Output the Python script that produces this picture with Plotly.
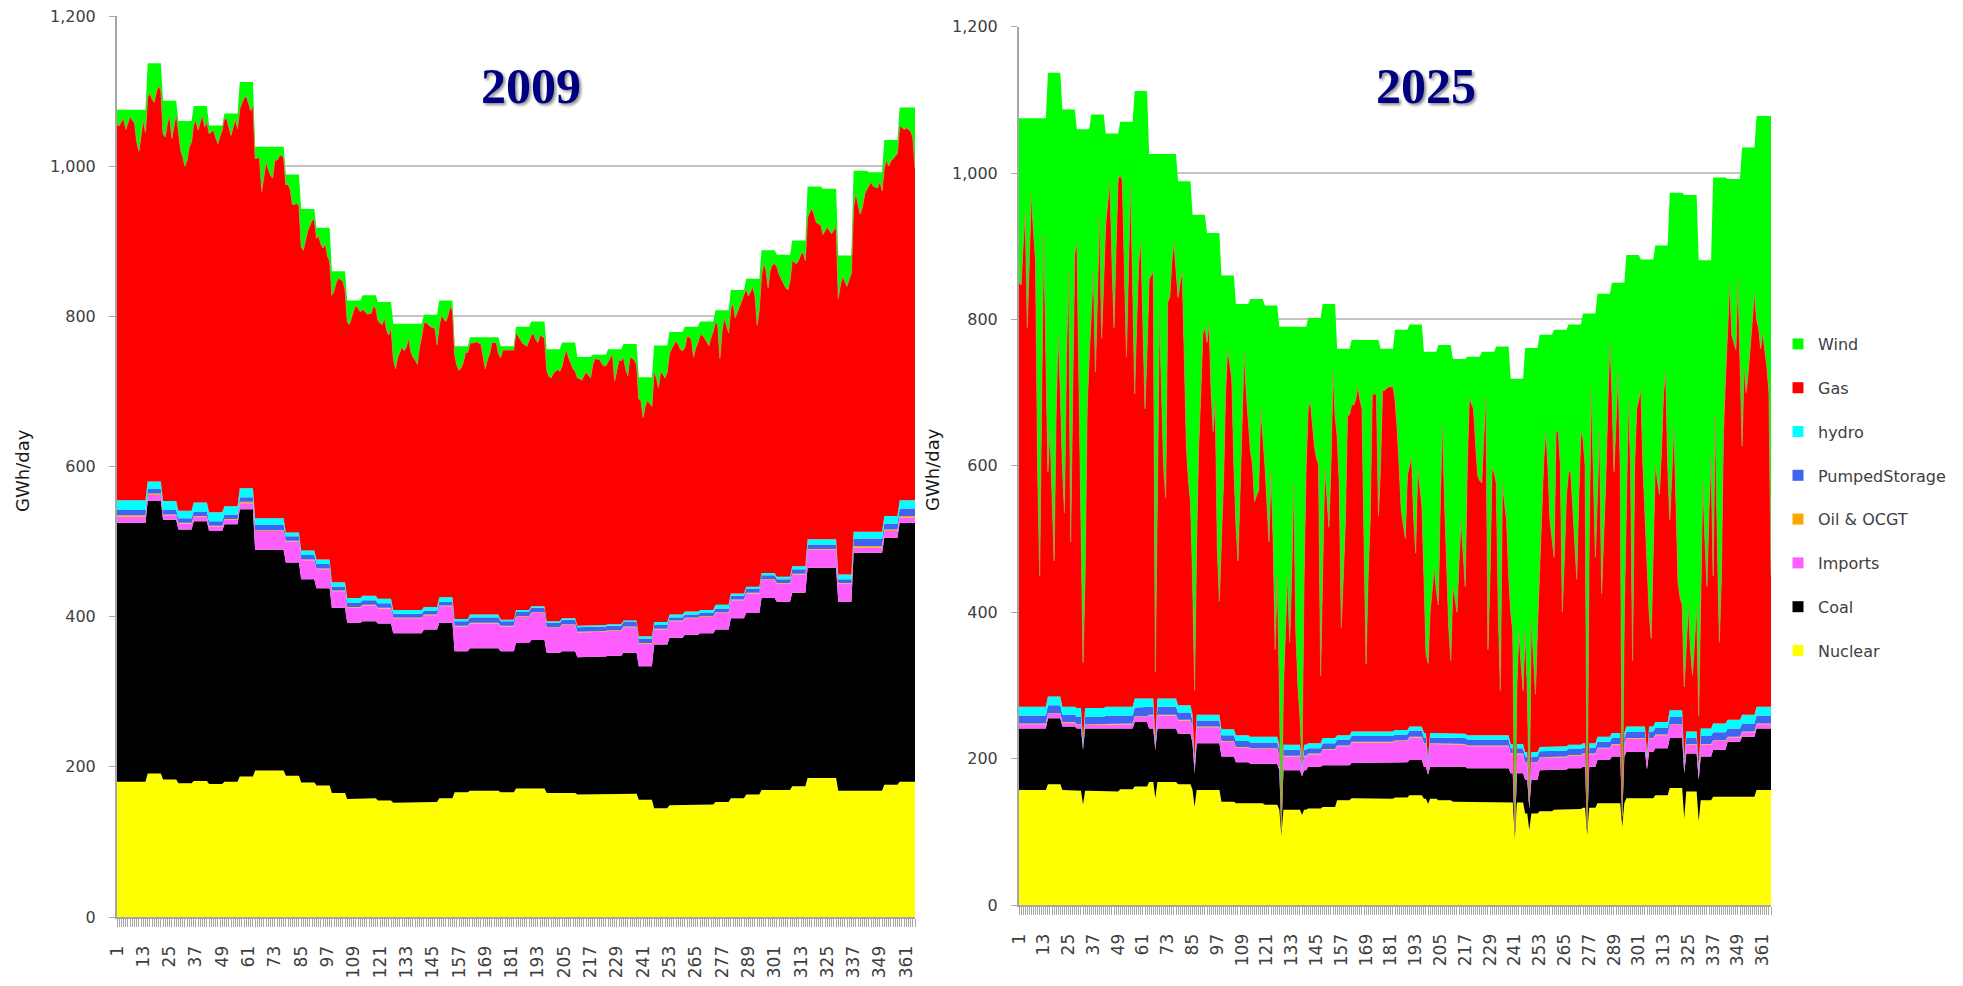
import plotly.graph_objects as go

# ---------------- categories / labels ----------------
DAYS = list(range(1, 366))
tick_days = list(range(1, 366, 12))
tick_labels = [str(d) for d in tick_days]
y_ticks = [0, 200, 400, 600, 800, 1000, 1200]
y_tick_labels = ["0", "200", "400", "600", "800", "1,000", "1,200"]

SERIES = ["Nuclear", "Coal", "Imports", "Oil & OCGT", "PumpedStorage", "hydro", "Gas", "Wind"]
COLORS = {"Nuclear": "#FFFF00", "Coal": "#000000", "Imports": "#FF5EFF",
          "Oil & OCGT": "#FFA500", "PumpedStorage": "#3F64F2", "hydro": "#00FFFF",
          "Gas": "#FF0000", "Wind": "#00FF00"}

# ---------------- weekly demand (GWh/day, same in both years) ----------------
weekly_demand = [1075, 1075, 1137, 1087, 1060, 1080, 1054, 1070, 1112, 1026, 1026, 989, 943,
                 918, 860, 821, 828, 819, 790, 790, 802, 821, 760, 772, 772, 760, 786, 793,
                 756, 765, 746, 749, 756, 763, 719, 761, 779, 786, 793, 808, 835, 850, 888,
                 882, 901, 973, 970, 881, 994, 992, 1035, 1078, 1078]

# ---------------- 2009 weekly series ----------------
nuclear_2009 = [180, 180, 191, 183, 178, 181, 177, 180, 187, 195, 195, 188, 179, 175, 165, 157,
                158, 155, 152, 152, 153, 158, 166, 168, 168, 166, 171, 171, 165, 165, 163, 163,
                163, 164, 156, 145, 149, 149, 150, 153, 158, 163, 169, 169, 174, 185, 185, 168,
                168, 168, 176, 180, 180]
coal_2009 = [345, 345, 363, 346, 338, 346, 337, 343, 356, 294, 294, 284, 271, 263, 247, 235,
             236, 236, 226, 226, 230, 234, 188, 190, 190, 188, 194, 198, 187, 189, 183, 184,
             185, 188, 178, 218, 223, 227, 228, 230, 240, 242, 256, 251, 258, 280, 280, 252,
             317, 317, 329, 345, 345]
imports_2009 = [8, 8, 8, 6, 8, 6, 6, 6, 8, 25, 25, 28, 25, 25, 22, 20, 21, 20, 20, 20, 19, 22,
                33, 33, 33, 33, 35, 36, 33, 35, 33, 33, 33, 34, 30, 20, 22, 22, 22, 22, 24, 26,
                24, 24, 24, 24, 24, 24, 7, 7, 9, 7, 7]
oil_2009 = [2, 2, 2, 1, 1, 1, 1, 1, 2, 1, 1, 1, 1, 1, 1, 1, 1, 1, 1, 1, 1, 1, 1, 1, 1, 1, 1,
            1, 1, 1, 1, 1, 1, 1, 1, 1, 1, 1, 1, 1, 1, 1, 1, 1, 1, 1, 1, 1, 2, 2, 2, 2, 2]
storage_2009 = [7, 7, 6, 6, 6, 6, 6, 6, 6, 7, 7, 6, 6, 6, 5, 6, 6, 6, 5, 5, 5, 5, 6, 7, 7, 6,
                6, 6, 6, 6, 6, 6, 6, 6, 6, 5, 4, 4, 4, 5, 5, 5, 5, 5, 6, 6, 6, 5, 10, 10, 8, 10, 10]
hydro_2009 = [13, 13, 10, 12, 10, 12, 12, 11, 12, 9, 9, 5, 6, 6, 6, 6, 6, 6, 5, 5, 5, 6, 3, 4,
              4, 2, 2, 2, 2, 2, 2, 2, 2, 2, 3, 4, 4, 4, 4, 5, 3, 3, 3, 3, 4, 7, 7, 6, 9, 9, 10,
              11, 11]

# daily wind 2009
wind_2009 = [
    20, 21, 16, 12, 26, 18, 9,   14, 18, 43, 55, 34, 14, 30,   45, 40, 48, 52, 38, 30, 36,
    44, 48, 30, 20, 50, 35, 18,  14, 38, 48, 60, 52, 34, 28,   24, 20, 32, 21, 13, 28, 21,
    11, 9, 6, 16, 24, 14, 6,     7, 7, 18, 29, 18, 8, 20,      36, 28, 21, 19, 28, 38, 32,
    16, 15, 15, 60, 38, 20, 30,  38, 42, 18, 18, 13, 11, 15,   14, 13, 20, 40, 40, 38, 42,
    50, 55, 40, 29, 22, 15, 14,  14, 11, 22, 27, 21, 38, 44,   32, 26, 15, 9, 11, 13, 24,
    28, 32, 22, 13, 6, 11, 15,   19, 21, 25, 24, 24, 14, 17,   24, 28, 30, 21, 38, 44, 34,
    45, 60, 45, 38, 31, 36, 31,  19, 37, 44, 48, 54, 31, 17,   11, 10, 13, 16, 17, 18, 40,
    34, 20, 24, 28, 20, 8, 14,   11, 25, 32, 28, 21, 8, 8,     8, 8, 7, 6, 7, 9, 25,
    42, 29, 22, 7, 7, 7, 22,     15, 5, 5, 5, 5, 5, 5,         9, 12, 17, 22, 24, 26, 18,
    18, 16, 24, 28, 18, 20, 22,  28, 36, 38, 32, 29, 27, 29,   32, 18, 10, 20, 28, 35, 38,
    28, 29, 31, 25, 20, 24, 28,  14, 5, 6, 6, 11, 15, 15,      16, 11, 6, 42, 28, 14, 15,
    17, 33, 42, 17, 19, 21, 28,  29, 31, 54, 38, 31, 35, 39,   35, 42, 56, 34, 38, 43, 35,
    29, 22, 16, 12, 16, 23, 25,  28, 13, 13, 17, 40, 28, 21,   18, 18, 22, 27, 32, 21, 13,
    16, 19, 64, 28, 10, 19, 30,  25, 17, 37, 30, 23, 14, 6,    14, 23, 17, 11, 23, 62, 41,
    33, 18, 26, 50, 26, 19, 18,  16, 26, 32, 39, 44, 47, 35,   27, 29, 31, 26, 18, 16, 27,
    41, 34, 29, 38, 48, 50, 51,  61, 56, 51, 56, 60, 55, 51,   57, 39, 28, 35, 41, 31, 24,
    49, 30, 45, 58, 49, 32, 25,  18, 13, 19, 20, 21, 12, 25,   37, 27, 35, 28, 25, 21, 18,
    25, 26, 29, 27, 29, 31, 40,  81]

# ---------------- 2025 weekly series ----------------
nuclear_2025 = [157, 157, 165, 157, 156, 156, 155, 158, 162, 168, 168, 165, 157, 157, 141, 139,
                139, 137, 130, 130, 132, 134, 143, 146, 146, 145, 147, 150, 145, 143, 141, 141,
                141, 141, 140, 125, 128, 130, 131, 133, 139, 139, 146, 146, 150, 160, 155, 143,
                148, 148, 148, 157, 157]
coal_2025 = [84, 84, 90, 87, 85, 85, 86, 83, 88, 73, 73, 69, 64, 64, 62, 56, 54, 56, 54, 54, 57,
             57, 48, 48, 48, 49, 48, 48, 44, 46, 48, 46, 46, 46, 40, 46, 56, 55, 56, 56, 59, 64,
             63, 63, 64, 68, 52, 60, 64, 75, 82, 84, 84]
imports_2025 = [6, 6, 6, 5, 5, 5, 6, 6, 7, 18, 18, 18, 22, 22, 20, 20, 20, 20, 19, 19, 17, 21,
                26, 28, 28, 28, 29, 31, 31, 30, 30, 30, 30, 30, 26, 23, 17, 17, 17, 17, 16, 16,
                18, 18, 18, 18, 12, 16, 12, 6, 6, 6, 6]
oil_2025 = [1, 1, 1, 1, 1, 1, 1, 1, 1, 1, 1, 1, 1, 1, 1, 1, 1, 1, 1, 1, 1, 1, 1, 1, 1, 1, 1,
            1, 1, 1, 1, 1, 1, 1, 1, 1, 1, 1, 1, 1, 1, 1, 1, 1, 1, 1, 1, 1, 1, 1, 1, 1, 1]
storage_2025 = [11, 11, 11, 10, 10, 10, 11, 11, 12, 11, 11, 10, 8, 8, 8, 8, 8, 8, 8, 8, 7, 8, 8,
                8, 8, 8, 8, 8, 8, 8, 8, 8, 8, 8, 7, 8, 8, 8, 8, 8, 8, 8, 9, 9, 9, 10, 8, 11, 11,
                11, 11, 11, 11]
hydro_2025 = [12, 12, 12, 11, 12, 12, 12, 12, 12, 11, 11, 10, 8, 8, 8, 8, 8, 8, 7, 7, 7, 7, 6, 6,
              6, 6, 6, 6, 6, 6, 6, 6, 6, 6, 6, 6, 6, 6, 6, 6, 7, 7, 7, 7, 8, 9, 9, 10, 12, 12,
              12, 12, 12]

# days in 2025 when the base stack dips
dip_days_2025 = [32, 67, 86, 128, 138, 199, 241, 248, 276, 293, 305, 323, 330]
dip_nuclear_2025 = [137, 146, 134, 95, 123, 138, 91, 102, 96, 107, 146, 118, 114]
dip_coal_2025 = [75, 66, 46, 3, 53, 40, 3, 30, 5, 10, 39, 62, 57]
dip_imports_2025 = [3, 3, 8, 1, 8, 12, 1, 5, 1, 2, 12, 8, 8]
dip_storage_2025 = [4, 4, 4, 1, 4, 4, 1, 3, 1, 1, 4, 4, 4]
dip_hydro_2025 = [4, 4, 4, 1, 4, 4, 1, 3, 1, 1, 4, 4, 4]

# daily wind 2025
wind_2025 = [
    225, 228, 175, 129, 286, 195, 104,  155, 195, 475, 625, 375, 159, 325,
    545, 487, 577, 667, 459, 358, 437,  487, 551, 337, 222, 591, 387, 197,
    155, 360, 560, 729, 610, 382, 310,  260, 215, 352, 230, 139, 306, 230,
    123, 94, 68, 174, 265, 154, 62,     73, 80, 200, 321, 200, 89, 220,
    414, 312, 232, 207, 312, 434, 352,  171, 166, 161, 708, 426, 217, 326,
    426, 470, 202, 196, 146, 121, 166,  159, 139, 124, 239, 362, 409, 438,
    493, 650, 443, 316, 243, 163, 154,  149, 124, 218, 271, 230, 433, 503,
    360, 283, 160, 101, 120, 142, 260,  301, 351, 244, 141, 67, 121, 169,
    208, 226, 277, 268, 262, 150, 188,  217, 269, 323, 227, 319, 470, 369,
    490, 690, 490, 416, 340, 431, 340,  213, 416, 490, 532, 600, 340, 190,
    124, 114, 142, 175, 192, 200, 489,  371, 224, 261, 305, 221, 93, 153,
    120, 183, 381, 310, 234, 92, 90,    89, 89, 82, 64, 82, 94, 272,
    443, 322, 246, 74, 74, 74, 241,     160, 57, 57, 54, 52, 52, 52,
    96, 134, 186, 246, 266, 285, 199,   193, 181, 263, 312, 196, 223, 247,
    306, 412, 426, 356, 326, 296, 326,  355, 204, 108, 215, 305, 385, 431,
    311, 326, 346, 276, 220, 266, 311,  149, 56, 64, 71, 119, 162, 169,
    179, 116, 63, 407, 306, 159, 166,   186, 363, 470, 186, 213, 237, 313,
    319, 345, 620, 419, 345, 389, 426,  387, 461, 650, 371, 421, 473, 381,
    319, 239, 172, 132, 179, 253, 279,  311, 139, 139, 184, 386, 311, 226,
    201, 201, 247, 293, 348, 233, 146,  171, 208, 700, 308, 105, 208, 333,
    275, 188, 410, 335, 258, 155, 66,   150, 258, 190, 122, 250, 735, 450,
    362, 200, 288, 554, 288, 210, 198,  179, 282, 356, 432, 482, 518, 382,
    299, 321, 340, 281, 201, 173, 301,  447, 373, 321, 423, 533, 553, 563,
    672, 620, 560, 620, 656, 610, 560,  623, 431, 304, 381, 446, 341, 269,
    544, 326, 494, 635, 544, 347, 274,  193, 143, 213, 222, 233, 137, 272,
    408, 300, 335, 307, 275, 235, 199,  278, 290, 318, 297, 318, 343, 378,
    628]


def daily(weekly):
    return [weekly[(d - 1) // 7] for d in DAYS]


def build_year(nuc, coal, imp, oil, sto, hyd, wind, dips=None):
    s = {"Nuclear": daily(nuc), "Coal": daily(coal), "Imports": daily(imp),
         "Oil & OCGT": daily(oil), "PumpedStorage": daily(sto), "hydro": daily(hyd)}
    if dips:
        for i, d in enumerate(dips["days"]):
            for name, key in (("Nuclear", "nuc"), ("Coal", "coal"), ("Imports", "imp"),
                              ("PumpedStorage", "sto"), ("hydro", "hyd")):
                s[name][d - 1] = dips[key][i]
    demand = daily(weekly_demand)
    gas, wnd = [], []
    for i in range(365):
        base = sum(s[n][i] for n in SERIES[:6])
        room = max(demand[i] - base, 0)
        w = min(wind[i], room)
        wnd.append(w)
        gas.append(room - w)
    s["Gas"] = gas
    s["Wind"] = wnd
    return s


y2009 = build_year(nuclear_2009, coal_2009, imports_2009, oil_2009, storage_2009, hydro_2009,
                   wind_2009)
y2025 = build_year(nuclear_2025, coal_2025, imports_2025, oil_2025, storage_2025, hydro_2025,
                   wind_2025,
                   dips={"days": dip_days_2025, "nuc": dip_nuclear_2025, "coal": dip_coal_2025,
                         "imp": dip_imports_2025, "sto": dip_storage_2025,
                         "hyd": dip_hydro_2025})

EDGE = {"Gas": dict(width=1, color="rgba(170,150,70,0.85)")}

fig = go.Figure()
for data, xa, ya, grp in ((y2009, "x", "y", "a"), (y2025, "x2", "y2", "b")):
    for name in SERIES:
        line = EDGE.get(name, dict(width=0, color=COLORS[name]))
        fig.add_trace(go.Scatter(
            x=DAYS, y=data[name], name=name, stackgroup=grp, mode="lines",
            line=line, fillcolor=COLORS[name],
            xaxis=xa, yaxis=ya, showlegend=False, hoverinfo="skip"))

# legend entries (square swatches)
for name in reversed(SERIES):
    fig.add_trace(go.Scatter(
        x=[None], y=[None], name=name, mode="markers", legendgroup=name,
        marker=dict(symbol="square", size=11, color=COLORS[name]),
        xaxis="x2", yaxis="y2", showlegend=True))

AX_COL = "#A6A6A6"
TICK_FONT = dict(family="DejaVu Sans", size=16, color="#404040")
XTICK_FONT = dict(family="DejaVu Sans", size=17, color="#404040")

W, H = 1960, 984
# absolute page positions of the two plot areas
L_LEFT, L_RIGHT, L_TOP, L_BOTTOM = 117, 915, 16, 917
R_LEFT, R_RIGHT, R_TOP, R_BOTTOM = 1019, 1771, 26.7, 905
ML, MR, MT, MB = L_LEFT, W - R_RIGHT, L_TOP, H - L_BOTTOM
PW = W - ML - MR
PH = H - MT - MB


def px(xf):
    return (xf - ML) / PW


def py(yf):
    return (H - MB - yf) / PH


xaxis_common = dict(range=[1, 365], tickmode="array", tickvals=tick_days, ticktext=tick_labels,
                    tickangle=-90, tickfont=XTICK_FONT, ticks="outside", ticklen=8,
                    tickcolor=AX_COL, tickwidth=1,
                    minor=dict(dtick=1, tick0=1, ticks="outside", ticklen=8, tickcolor=AX_COL,
                               tickwidth=1, showgrid=False),
                    showline=True, linecolor=AX_COL, linewidth=2, showgrid=False,
                    zeroline=False, ticklabelstandoff=12, fixedrange=True, automargin=False)
yaxis_common = dict(range=[0, 1200], tickmode="array", tickvals=y_ticks, ticktext=y_tick_labels,
                    tickfont=TICK_FONT, showgrid=True, gridcolor="#C4C4C4", gridwidth=2,
                    showline=True, linecolor=AX_COL, linewidth=2, ticks="outside", ticklen=6,
                    tickcolor=AX_COL, zeroline=False, ticklabelstandoff=10, fixedrange=True,
                    automargin=False)

TITLE_FONT = dict(family="Liberation Serif", size=50, color="#000080", weight="bold",
                  shadow="2px 2px 3px rgba(0,0,0,0.45)")
YTITLE_FONT = dict(family="DejaVu Sans", size=18, color="#1a1a1a")

fig.update_layout(
    width=W, height=H,
    margin=dict(l=ML, r=MR, t=MT, b=MB, autoexpand=False),
    paper_bgcolor="white", plot_bgcolor="white",
    hovermode=False,
    xaxis=dict(domain=[0, px(L_RIGHT)], anchor="y", **xaxis_common),
    yaxis=dict(domain=[0, 1], anchor="x", **yaxis_common),
    xaxis2=dict(domain=[px(R_LEFT), 1], anchor="y2", **xaxis_common),
    yaxis2=dict(domain=[py(R_BOTTOM), py(R_TOP)], anchor="x2", **yaxis_common),
    legend=dict(x=px(1778), xanchor="left", y=py(327), yanchor="top",
                traceorder="grouped", tracegroupgap=20,
                font=dict(family="DejaVu Sans", size=16, color="#404040"),
                bgcolor="rgba(0,0,0,0)"),
    annotations=[
        dict(text="2009", x=px(531), y=py(86), xref="paper", yref="paper",
             xanchor="center", yanchor="middle", showarrow=False, font=TITLE_FONT),
        dict(text="2025", x=px(1426), y=py(86), xref="paper", yref="paper",
             xanchor="center", yanchor="middle", showarrow=False, font=TITLE_FONT),
        dict(text="GWh/day", x=px(22), y=py(471), xref="paper", yref="paper",
             xanchor="center", yanchor="middle", showarrow=False, textangle=-90,
             font=YTITLE_FONT),
        dict(text="GWh/day", x=px(932), y=py(470), xref="paper", yref="paper",
             xanchor="center", yanchor="middle", showarrow=False, textangle=-90,
             font=YTITLE_FONT),
    ],
)

fig.write_html("out.html", config={"displayModeBar": False},
               post_script="document.body.style.margin='0px';")
